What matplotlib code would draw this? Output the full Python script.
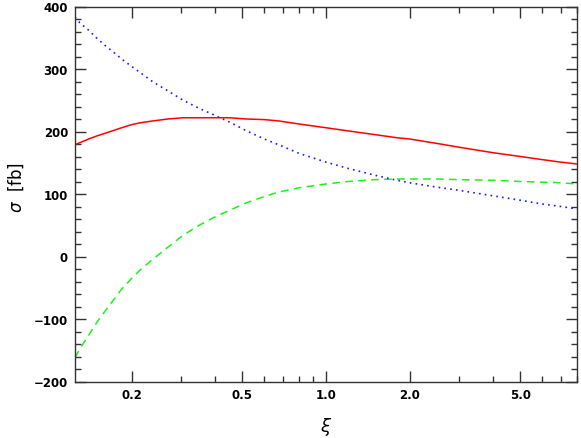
import matplotlib
matplotlib.use("Agg")
import matplotlib.pyplot as plt
from matplotlib.ticker import FixedLocator, NullFormatter, MultipleLocator

xi = [0.125, 0.13, 0.14, 0.15, 0.16, 0.173, 0.184, 0.2, 0.215, 0.239, 0.27, 0.306, 0.35,
      0.393, 0.45, 0.518, 0.6, 0.674, 0.8, 1.0, 1.2, 1.5, 1.8, 2.0, 2.5, 3.0, 4.0,
      5.0, 6.0, 7.0, 8.0]
sigma_solid = [179, 182, 188, 193, 197, 202, 206, 211, 214, 217, 220, 222, 222,
               222, 222, 220, 219, 217, 212, 206, 201, 195, 190, 188, 181, 175, 166,
               160, 155, 151, 148]
sigma_dashed = [-162, -148, -126, -105, -88, -68, -52, -35, -21, -4, 15, 34, 50,
                62, 74, 86, 96, 103, 110, 116, 120, 123, 124, 124, 124, 123, 122,
                120, 119, 118, 116]
sigma_dotted = [383, 374, 362, 349, 338, 326, 316, 304, 294, 279, 265, 250, 237,
                227, 215, 201, 188, 179, 165, 151, 141, 130, 122, 118, 111, 106, 97,
                90, 84, 80, 76]

xticks = [0.2, 0.5, 1.0, 2.0, 5.0]
xticklabels = ["0.2", "0.5", "1.0", "2.0", "5.0"]
xminor = [0.3, 0.4, 0.6, 0.7, 0.8, 0.9, 3.0, 4.0, 6.0, 7.0, 8.0]
yticks = [-200, -100, 0, 100, 200, 300, 400]
yticklabels = ["\u2212200", "\u2212100", "0", "100", "200", "300", "400"]

plt.rcParams['font.family'] = ['DejaVu Sans']

fig = plt.figure(figsize=(5.81, 4.39), dpi=100)
ax = fig.add_axes([75/581, 1-382.5/439, 502/581, 375/439])

ax.plot(xi, sigma_solid, color=(1, 0, 0), lw=1.1, ls='-')
ax.plot(xi, sigma_dashed, color=(0.1, 0.95, 0.1), lw=1.1, ls=(0, (5, 3.5)))
ax.plot(xi, sigma_dotted, color=(0.1, 0.1, 1), lw=1.2, ls=(0, (1, 2.5)))

ax.set_xscale('log')
ax.set_xlim(0.125, 8.0)
ax.set_ylim(-200, 400)

ax.xaxis.set_major_locator(FixedLocator(xticks))
ax.set_xticklabels(xticklabels)
ax.xaxis.set_minor_locator(FixedLocator(xminor))
ax.xaxis.set_minor_formatter(NullFormatter())
ax.set_yticks(yticks)
ax.set_yticklabels(yticklabels)
ax.yaxis.set_minor_locator(MultipleLocator(20))

ax.tick_params(which='both', direction='in', top=True, right=True, color='#333333',
               width=1.0)
ax.tick_params(which='major', length=8, labelsize=8.5, pad=5)
ax.tick_params(which='minor', length=4)
for lab in ax.get_xticklabels() + ax.get_yticklabels():
    lab.set_fontweight('bold')
for s in ax.spines.values():
    s.set_color('#333333')
    s.set_linewidth(1.0)

ax.set_xlabel(r'$\xi$', fontsize=13, labelpad=10)
ax.set_ylabel(r'$\sigma$  [fb]', fontsize=12)
ax.yaxis.set_label_coords(-0.098, 0.52)

fig.savefig('out.png', dpi=100)
